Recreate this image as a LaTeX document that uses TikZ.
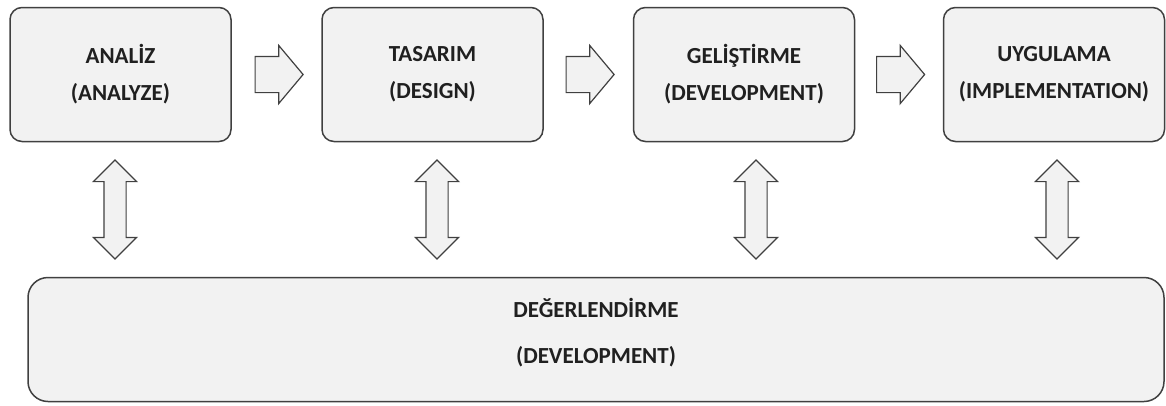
\documentclass[tikz,border=0pt]{standalone}
\usepackage{fontspec}
\setmainfont{Carlito}
\usetikzlibrary{shapes.arrows}
\definecolor{boxfill}{HTML}{F2F2F2}
\definecolor{boxline}{HTML}{404040}
\definecolor{txt}{HTML}{202020}

\begin{document}
\begin{tikzpicture}[x=1pt,y=-1pt,
    phase/.style={draw=boxline,fill=boxfill,line width=1.5pt,rounded corners=12pt,
      minimum width=221pt,minimum height=134pt,align=center,text=txt,
      font=\fontsize{23}{37}\selectfont\bfseries},
    evalbox/.style={phase,rounded corners=20pt,minimum width=1136pt,minimum height=124pt,
      text depth=17pt},
    nextarrow/.style={single arrow,draw=boxline,fill=boxfill,line width=1.2pt,
      inner xsep=0pt,inner ysep=17.5pt,anchor=tail,
      minimum height=48pt,minimum width=57pt,single arrow head extend=11pt,
      single arrow tip angle=100},
    backarrow/.style={double arrow,draw=boxline,fill=boxfill,line width=1.2pt,inner sep=10.5pt,
      shape border rotate=90,minimum height=99pt,minimum width=42pt,
      double arrow head extend=10.5pt,double arrow tip angle=90}]
  \useasboundingbox (0,0) rectangle (1166,405);
  % phases
  \node [phase] (ana) at (120.5,74.5) {ANALİZ\\(ANALYZE)};
  \node [phase] (tas) at (432.5,74.5) {TASARIM\\(DESIGN)};
  \node [phase] (gel) at (744,74.5) {GELİŞTİRME\\(DEVELOPMENT)};
  \node [phase] (uyg) at (1054,74.5) {UYGULAMA\\(IMPLEMENTATION)};
  \node [evalbox] (deg) at (596,339.5) {DEĞERLENDİRME\\[9pt](DEVELOPMENT)};
  % arrows between phases
  \node [nextarrow] (a1) at (254.5,74.5) {};
  \node [nextarrow] (a2) at (565.5,74.5) {};
  \node [nextarrow] (a3) at (876,74.5) {};
  % arrows to evaluation
  \node [backarrow] (d1) at (115,209.5) {};
  \node [backarrow] (d2) at (437,209.5) {};
  \node [backarrow] (d3) at (756,209.5) {};
  \node [backarrow] (d4) at (1057,209.5) {};
\end{tikzpicture}
\end{document}
